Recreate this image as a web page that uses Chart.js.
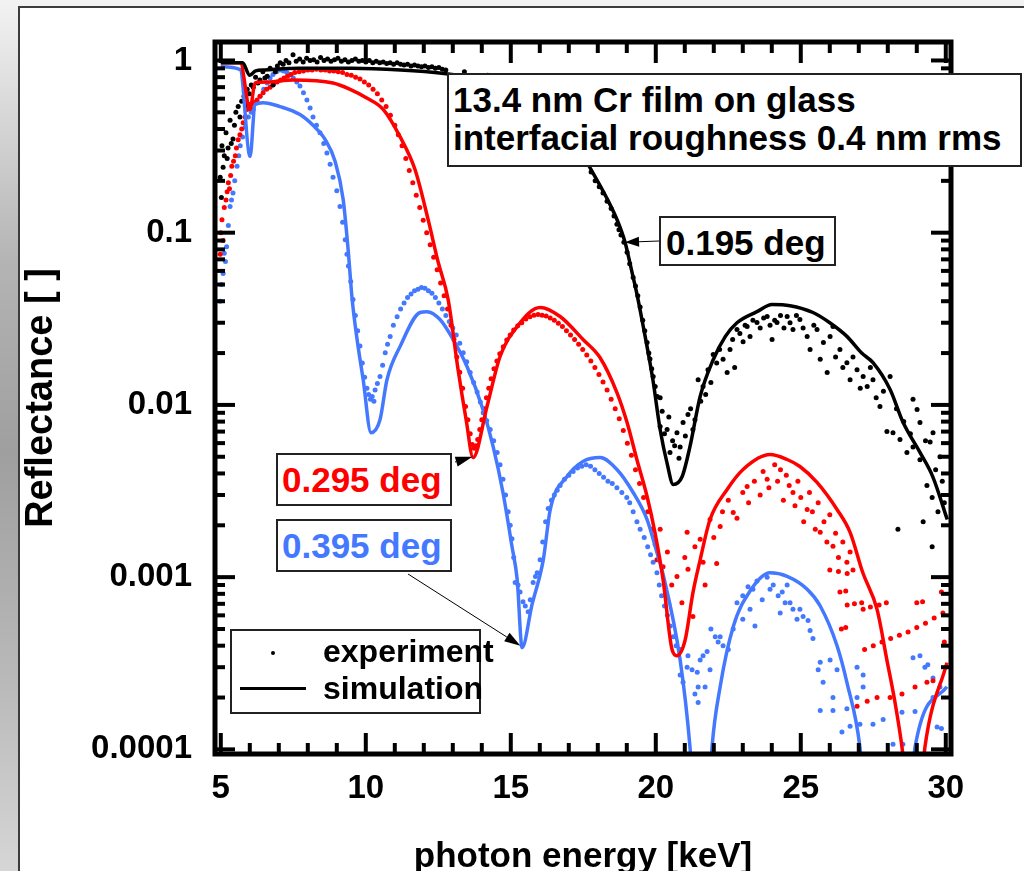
<!DOCTYPE html>
<html>
<head>
<meta charset="utf-8">
<title>Cr film reflectance</title>
<script src="https://cdn.jsdelivr.net/npm/chart.js@4.4.1/dist/chart.umd.min.js"></script>
<style>
  html, body { margin: 0; padding: 0; }
  body {
    width: 1024px; height: 871px; overflow: hidden;
    background: linear-gradient(to bottom, #f3f3f3 0%, #b4b4b4 30%, #9f9f9f 52%, #b9b9b9 78%, #d6d6d6 100%);
  }
  #stage { position: relative; width: 1024px; height: 871px; }
  #panel {
    position: absolute; left: 18px; top: 6px; width: 1100px; height: 1000px;
    background: #fff; border-left: 2px solid #3c3c3c; border-top: 2px solid #3c3c3c;
  }
  canvas { position: absolute; left: 0; top: 0; z-index: 1; }
  .note {
    position: absolute; z-index: 2; box-sizing: border-box;
    background: #fff; border: 2px solid #222; color: #000;
    font: bold 35px "Liberation Sans", Arial, sans-serif; line-height: 1; white-space: nowrap;
  }
  #noteFilm { left: 447px; top: 73px; width: 575px; height: 94px; padding: 6px 0 0 4px; line-height: 38px; }
  #note195 { left: 659px; top: 216px; width: 177px; height: 50px; padding: 7px 0 0 5px; }
  #note295 { left: 276px; top: 453px; width: 176px; height: 53px; padding: 7px 0 0 4px; color: #ff0000; }
  #note395 { left: 276px; top: 519px; width: 176px; height: 53px; padding: 7px 0 0 4px; color: #4479ff; }
  #legendBox { position: absolute; z-index: 2; left: 230px; top: 629px; width: 251px; height: 85px;
    box-sizing: border-box; border: 2px solid #222; background: #fff; }
  .legText { position: absolute; z-index: 3; font: bold 32px "Liberation Sans", Arial, sans-serif;
    line-height: 1; white-space: nowrap; color: #000; }
  #legDot { position: absolute; z-index: 3; left: 271px; top: 651px; width: 4px; height: 4px; border-radius: 50%; background: #000; }
  #legLine { position: absolute; z-index: 3; left: 240px; top: 687px; width: 66px; height: 3px; background: #000; }
</style>
</head>
<body>
<div id="stage">
  <div id="panel"></div>
  <canvas id="chart" width="1024" height="871"></canvas>
  <div class="note" id="noteFilm">13.4 nm Cr film on glass<br>interfacial roughness 0.4 nm rms</div>
  <div class="note" id="note195">0.195 deg</div>
  <div class="note" id="note295">0.295 deg</div>
  <div class="note" id="note395">0.395 deg</div>
  <div id="legendBox"></div>
  <div id="legDot"></div>
  <div class="legText" style="left:323px; top:635px;">experiment</div>
  <div id="legLine"></div>
  <div class="legText" style="left:323px; top:672px;">simulation</div>
</div>
<script>
// axis ticks
const energyTicks = [5, 10, 15, 20, 25, 30];
const reflTicks = [0.0001, 0.001, 0.01, 0.1, 1];
const reflTickLabels = ['0.0001', '0.001', '0.01', '0.1', '1'];

// simulated reflectance curves, one per grazing angle
const blackSimE = [5.0, 5.75, 6.0, 6.2, 6.5, 7.7, 9.5, 11.2, 12.7, 14.0, 15.0, 16.0, 17.0, 17.77, 18.3, 18.7, 18.94, 19.15, 19.35, 19.56, 19.9, 20.15, 20.4, 20.6, 20.91, 21.18, 21.53, 21.98, 22.4, 22.8, 23.49, 24.01, 24.63, 25.42, 26.0, 26.59, 27.1, 27.49, 28.08, 28.53, 29.11, 29.56, 30.05];
const blackSimR = [0.97, 0.97, 0.82, 0.87, 0.88, 0.9, 0.9, 0.88, 0.84, 0.78, 0.7, 0.56, 0.38, 0.232, 0.16, 0.115, 0.088, 0.062, 0.044, 0.029, 0.014, 0.0072, 0.0045, 0.00345, 0.00384, 0.00574, 0.0112, 0.0183, 0.025, 0.03, 0.0348, 0.0383, 0.0377, 0.0344, 0.03, 0.025, 0.02, 0.0176, 0.0123, 0.0079, 0.0053, 0.0038, 0.00216];

const redSimE = [5.0, 5.67, 6.01, 6.18, 6.6, 7.49, 8.87, 9.46, 10.0, 10.6, 11.18, 11.7, 12.15, 12.49, 12.84, 13.18, 13.46, 13.7, 14.18, 14.63, 15.22, 16.01, 16.7, 17.49, 18.08, 18.66, 19.01, 19.35, 19.7, 19.97, 20.25, 20.56, 20.73, 21.01, 21.28, 21.53, 21.87, 22.46, 23.01, 23.94, 24.53, 24.97, 25.56, 26.25, 26.7, 27.14, 27.63, 27.97, 28.25, 28.49, 28.7, 29.1, 29.28, 30.04];
const redSimR = [0.97, 0.97, 0.52, 0.74, 0.75, 0.77, 0.74, 0.68, 0.61, 0.52, 0.361, 0.232, 0.119, 0.068, 0.0409, 0.0161, 0.0082, 0.00495, 0.0098, 0.0191, 0.0285, 0.0368, 0.0326, 0.024, 0.0188, 0.0118, 0.0079, 0.0048, 0.00294, 0.00182, 0.00097, 0.00038, 0.00035, 0.00043, 0.00081, 0.00126, 0.00216, 0.00323, 0.00422, 0.00515, 0.00482, 0.00439, 0.00355, 0.00247, 0.00182, 0.00106, 0.00065, 0.00033, 0.000187, 0.000103, 0.00005, 0.00005, 0.000103, 0.000319];

const blueSimE = [5.0, 5.67, 6.01, 6.18, 6.46, 7.04, 7.73, 8.18, 8.6, 8.94, 9.22, 9.39, 9.53, 9.7, 9.91, 10.18, 10.49, 10.73, 11.18, 11.87, 12.11, 12.56, 13.01, 13.49, 14.04, 14.39, 14.73, 15.04, 15.22, 15.39, 15.73, 16.12, 16.36, 16.94, 17.49, 18.08, 18.66, 19.22, 19.7, 20.04, 20.25, 20.84, 21.18, 21.35, 21.8, 21.94, 22.22, 22.67, 23.25, 23.94, 24.53, 25.22, 25.67, 26.25, 26.59, 27.04, 27.25, 28.75, 28.94, 30.04];
const blueSimR = [0.92, 0.885, 0.277, 0.555, 0.569, 0.54, 0.485, 0.42, 0.347, 0.26, 0.156, 0.08, 0.041, 0.024, 0.014, 0.0069, 0.0082, 0.014, 0.0218, 0.0344, 0.0348, 0.0313, 0.024, 0.0167, 0.0094, 0.00574, 0.0031, 0.00151, 0.00097, 0.00039, 0.00069, 0.00126, 0.00247, 0.00384, 0.0047, 0.00495, 0.00422, 0.0031, 0.00216, 0.00139, 0.00104, 0.00033, 0.000103, 0.00004, 0.00004, 0.000103, 0.000231, 0.000515, 0.00083, 0.00106, 0.00101, 0.00085, 0.00068, 0.0004, 0.000245, 0.000103, 0.00004, 0.00004, 0.000103, 0.000231];

// measured points, [energy keV, reflectance]
const expBlack = [
  [4.98,0.21],[5.02,0.16],[5.04,0.32],[5.08,0.24],[5.12,0.28],[5.18,0.38],[5.22,0.27],[5.25,0.31],[5.32,0.45],[5.36,0.33],
  [5.42,0.35],[5.47,0.42],[5.52,0.5],[5.6,0.54],[5.66,0.47],[5.72,0.58],[5.8,0.62],[5.86,0.55],[5.91,0.68],[5.98,0.64],
  [6.05,0.72],[6.12,0.7],[6.2,0.8],[6.28,0.74],[6.35,0.77],[6.45,0.86],[6.52,0.79],[6.6,0.81],[6.7,0.9],[6.8,0.72],
  [6.88,0.86],[6.95,0.93],[7.05,0.97],[7.15,0.95],[7.25,1.0],[7.35,0.97],[7.49,1.08],[7.6,0.99],[7.72,1.02],[7.84,0.98],
  [7.96,1.03],[8.08,1.0],[8.2,1.01],[8.32,0.98],[8.44,1.04],[8.56,1.0],[8.68,1.02],[8.8,0.99],[8.92,1.01],[9.04,1.03],
  [9.16,0.99],[9.28,1.01],[9.4,0.98],[9.52,1.0],[9.64,1.02],[9.76,0.99],[9.88,1.0],[10.0,0.98],[10.12,1.0],[10.24,0.97],
  [10.36,0.99],[10.48,0.97],[10.6,0.98],[10.72,0.96],[10.84,0.97],[10.96,0.95],[11.08,0.97],[11.2,0.95],[11.32,0.94],[11.44,0.95],
  [11.56,0.93],[11.68,0.94],[11.8,0.93],[11.92,0.92],[12.04,0.93],[12.16,0.91],[12.28,0.92],[12.4,0.9],[12.52,0.91],[12.64,0.89],
  [12.76,0.88],[13.4,0.86],[14.2,0.82],[15.0,0.74],[15.8,0.6],[16.6,0.44],[17.2,0.33],
  [17.63,0.25],[17.77,0.225],[17.91,0.2],[18.05,0.185],[18.18,0.17],[18.32,0.152],[18.46,0.138],[18.56,0.125],[18.66,0.112],[18.73,0.104],
  [18.8,0.097],[18.9,0.088],[19.01,0.077],[19.1,0.066],[19.22,0.055],[19.3,0.049],[19.38,0.043],[19.46,0.037],[19.55,0.031],[19.62,0.027],
  [19.7,0.023],[19.76,0.02],[19.8,0.0185],[19.86,0.0162],[19.91,0.0146],[19.98,0.0128],[20.05,0.0112],[20.15,0.011],[20.15,0.0075],[20.22,0.0092],
  [20.3,0.0068],[20.39,0.0072],[20.45,0.0085],[20.49,0.0053],[20.58,0.0062],[20.65,0.0058],[20.73,0.0069],[20.8,0.0049],[20.84,0.0057],[20.94,0.0079],
  [21.02,0.0066],[21.11,0.0088],[21.2,0.0095],[21.28,0.0072],[21.35,0.0082],[21.46,0.014],[21.55,0.0105],[21.63,0.0128],[21.72,0.0115],[21.8,0.016],
  [21.9,0.0135],[21.98,0.0196],[22.1,0.0175],[22.2,0.021],[22.32,0.0184],[22.46,0.0154],[22.56,0.021],[22.65,0.024],[22.72,0.0165],[22.8,0.0274],
  [22.9,0.026],[23.01,0.0233],[23.08,0.029],[23.15,0.0285],[23.25,0.025],[23.35,0.031],[23.49,0.0301],[23.6,0.028],[23.72,0.032],[23.84,0.0326],
  [23.94,0.029],[24.01,0.024],[24.1,0.031],[24.18,0.0301],[24.3,0.033],[24.42,0.028],[24.53,0.0326],[24.63,0.03],[24.73,0.0274],[24.85,0.033],
  [24.97,0.0313],[25.08,0.028],[25.22,0.025],[25.32,0.021],[25.45,0.029],[25.56,0.0274],[25.67,0.0184],[25.78,0.023],[25.91,0.0154],[26.01,0.025],
  [26.11,0.0285],[26.2,0.019],[26.35,0.021],[26.45,0.0165],[26.59,0.0176],[26.7,0.014],[26.8,0.019],[26.94,0.016],[27.05,0.0125],[27.15,0.0146],
  [27.29,0.0128],[27.4,0.0165],[27.49,0.014],[27.6,0.011],[27.73,0.0098],[27.85,0.012],[27.97,0.007],[28.08,0.0146],[28.18,0.0069],[28.3,0.0095],
  [28.35,0.0019],[28.42,0.0063],[28.55,0.008],[28.66,0.0053],[28.78,0.0068],[28.87,0.0108],[28.87,0.0057],[29.01,0.0094],[29.11,0.0079],[29.11,0.0048],
  [29.22,0.0021],[29.3,0.0062],[29.35,0.0034],[29.46,0.0061],[29.53,0.0029],[29.53,0.0015],[29.56,0.0069],[29.65,0.0042],[29.73,0.0024],[29.8,0.005],
  [29.88,0.0036],[29.95,0.0027]
];

const expRed = [
  [4.98,0.075],[5.0,0.1],[5.04,0.119],[5.08,0.09],[5.12,0.14],[5.18,0.155],[5.22,0.173],[5.26,0.195],[5.3,0.18],[5.34,0.215],
  [5.38,0.243],[5.44,0.26],[5.5,0.28],[5.54,0.31],[5.6,0.347],[5.66,0.37],[5.72,0.4],[5.77,0.435],[5.84,0.47],[5.9,0.52],
  [5.97,0.55],[6.05,0.56],[6.15,0.57],[6.25,0.59],[6.35,0.62],[6.46,0.65],[6.58,0.68],[6.7,0.7],[6.82,0.73],[6.94,0.75],
  [7.06,0.77],[7.18,0.79],[7.3,0.81],[7.42,0.83],[7.55,0.85],[7.7,0.86],[7.85,0.87],[8.0,0.88],[8.15,0.88],[8.3,0.89],
  [8.45,0.88],[8.6,0.88],[8.75,0.87],[8.9,0.87],[9.05,0.86],[9.2,0.85],[9.35,0.83],[9.5,0.82],[9.65,0.8],[9.8,0.78],
  [9.95,0.75],[10.1,0.72],[10.25,0.68],[10.4,0.64],[10.55,0.59],[10.7,0.54],[10.85,0.48],[11.0,0.42],[11.12,0.37],[11.25,0.32],
  [11.38,0.27],[11.5,0.23],[11.62,0.195],[11.74,0.165],[11.86,0.14],[11.98,0.118],[12.1,0.1],[12.22,0.085],[12.34,0.072],[12.46,0.061],
  [12.58,0.051],[12.7,0.043],[12.82,0.036],[12.94,0.029],[13.04,0.024],[13.14,0.019],[13.24,0.0155],[13.34,0.0125],[13.44,0.0098],[13.52,0.0082],
  [13.6,0.0068],[13.67,0.0059],[13.74,0.0056],[13.8,0.0058],[13.86,0.0063],[13.93,0.0072],[14.0,0.0082],[14.08,0.0095],[14.16,0.011],[14.24,0.0125],
  [14.32,0.0142],[14.42,0.0162],[14.52,0.018],[14.62,0.0198],[14.74,0.0218],[14.86,0.0238],[14.98,0.0255],[15.1,0.0272],[15.24,0.0288],[15.38,0.03],
  [15.52,0.0315],[15.66,0.0325],[15.8,0.0332],[15.94,0.0335],[16.08,0.0332],[16.22,0.0328],[16.36,0.032],[16.5,0.031],[16.64,0.0298],[16.78,0.0285],
  [16.92,0.027],[17.06,0.0255],[17.2,0.024],[17.34,0.0225],[17.48,0.021],[17.62,0.0195],[17.76,0.018],[17.9,0.0165],[18.04,0.015],[18.18,0.0136],
  [18.32,0.0122],[18.46,0.0108],[18.6,0.0095],[18.74,0.0083],[18.88,0.0071],[19.02,0.006],[19.16,0.0051],[19.3,0.0042],[19.44,0.0035],[19.58,0.0029],
  [19.72,0.0024],[19.86,0.0019],[19.98,0.00155],[20.04,0.00126],[20.15,0.0019],[20.25,0.00115],[20.4,0.0014],[20.55,0.0009],[20.73,0.00101],[20.9,0.00071],
  [21.0,0.0013],[21.08,0.00182],[21.11,0.00111],[21.28,0.00059],[21.35,0.0015],[21.53,0.00166],[21.63,0.00122],[21.7,0.0009],[21.87,0.00216],[22.0,0.0017],
  [22.1,0.0012],[22.22,0.00197],[22.3,0.0024],[22.5,0.0028],[22.67,0.00237],[22.8,0.0022],[23.0,0.0031],[23.15,0.00336],[23.2,0.0027],[23.4,0.0036],
  [23.6,0.003],[23.7,0.0041],[23.84,0.0037],[23.9,0.0033],[24.1,0.0045],[24.2,0.0036],[24.3,0.0042],[24.4,0.0028],[24.5,0.0039],[24.6,0.0034],
  [24.73,0.0031],[24.8,0.0026],[24.9,0.0036],[25.0,0.0029],[25.1,0.0021],[25.22,0.00247],[25.3,0.0031],[25.4,0.0024],[25.5,0.0019],[25.6,0.0027],
  [25.67,0.00182],[25.8,0.0021],[25.9,0.0016],[26.0,0.0023],[26.11,0.00151],[26.2,0.0018],[26.3,0.0013],[26.45,0.0016],[26.59,0.00122],[26.7,0.0014],
  [26.8,0.0011],[26.0,0.0011],[26.3,0.00108],[26.6,0.00105],[26.35,0.00082],[26.55,0.00083],[26.6,0.00069],[26.85,0.0007],[27.1,0.00071],[26.4,0.0005],
  [26.55,0.00051],[27.15,0.00065],[27.4,0.00067],[27.7,0.00069],[27.95,0.00071],[27.2,0.00038],[27.5,0.0004],[27.8,0.00042],[28.1,0.00044],[28.4,0.00046],
  [28.7,0.00048],[29.0,0.00051],[29.3,0.00054],[29.6,0.00058],[29.9,0.00062],[26.94,0.000178],[27.29,0.00019],[27.63,0.0002],[28.08,0.0002],[28.49,0.00021],
  [28.94,0.00023],[29.35,0.000245],[29.56,0.00025],[29.0,0.00071],[29.2,0.00072],[29.85,0.00082],[29.95,0.00042]
];

const expBlue = [
  [4.98,0.04],[5.02,0.05],[5.08,0.058],[5.12,0.076],[5.16,0.068],[5.2,0.083],[5.26,0.11],[5.32,0.142],[5.37,0.155],[5.42,0.17],
  [5.48,0.2],[5.56,0.243],[5.62,0.28],[5.67,0.32],[5.75,0.36],[5.84,0.41],[5.95,0.47],[6.05,0.5],[6.12,0.52],[6.25,0.57],
  [6.36,0.62],[6.48,0.68],[6.6,0.74],[6.7,0.79],[6.8,0.83],[6.92,0.86],[7.04,0.88],[7.16,0.87],[7.28,0.85],[7.39,0.83],
  [7.5,0.79],[7.62,0.75],[7.73,0.71],[7.85,0.65],[7.97,0.59],[8.08,0.53],[8.18,0.47],[8.3,0.42],[8.42,0.38],[8.55,0.33],
  [8.66,0.29],[8.77,0.25],[8.87,0.21],[9.0,0.175],[9.11,0.142],[9.2,0.115],[9.29,0.091],[9.35,0.075],[9.4,0.064],[9.48,0.052],
  [9.56,0.041],[9.64,0.033],[9.72,0.027],[9.8,0.022],[9.88,0.0175],[9.96,0.0145],[10.04,0.0125],[10.1,0.0115],[10.16,0.0108],[10.22,0.0112],
  [10.28,0.0105],[10.32,0.0122],[10.4,0.0133],[10.49,0.0146],[10.58,0.017],[10.67,0.0201],[10.75,0.0225],[10.84,0.025],[10.95,0.029],[11.08,0.0325],
  [11.2,0.036],[11.32,0.039],[11.44,0.042],[11.56,0.044],[11.68,0.046],[11.8,0.047],[11.92,0.048],[12.04,0.0475],[12.16,0.046],[12.28,0.0445],
  [12.4,0.042],[12.52,0.039],[12.64,0.036],[12.76,0.033],[12.88,0.0305],[13.0,0.028],[13.12,0.0255],[13.24,0.0228],[13.36,0.0201],[13.48,0.0178],
  [13.6,0.0154],[13.72,0.0135],[13.84,0.0119],[13.95,0.0104],[14.05,0.009],[14.17,0.0081],[14.29,0.0072],[14.41,0.0062],[14.53,0.0053],[14.63,0.0045],
  [14.73,0.0037],[14.82,0.003],[14.91,0.0024],[14.98,0.002],[15.04,0.00167],[15.1,0.0013],[15.15,0.00093],[15.25,0.0009],[15.32,0.00082],[15.42,0.00072],
  [15.5,0.00068],[15.6,0.00063],[15.67,0.00074],[15.77,0.00093],[15.85,0.00101],[15.91,0.00106],[16.01,0.00126],[16.1,0.0016],[16.2,0.0021],[16.29,0.0025],
  [16.4,0.0028],[16.5,0.003],[16.6,0.0032],[16.7,0.0034],[16.85,0.0037],[17.0,0.0039],[17.15,0.0041],[17.3,0.0043],[17.45,0.0044],[17.6,0.0045],
  [17.75,0.0044],[17.9,0.0042],[18.05,0.004],[18.2,0.0038],[18.35,0.0036],[18.5,0.0035],[18.66,0.0033],[18.83,0.0031],[19.0,0.0029],[19.1,0.0027],
  [19.22,0.0024],[19.35,0.0021],[19.46,0.0019],[19.6,0.0017],[19.72,0.0015],[19.82,0.00135],[19.91,0.00122],[20.04,0.00106],[20.12,0.0009],[20.2,0.00078],
  [20.3,0.00068],[20.4,0.0006],[20.5,0.00052],[20.6,0.00045],[20.7,0.0004],[20.84,0.00038],[20.84,0.00027],[20.94,0.000245],[21.08,0.0003],[21.11,0.00035],
  [21.25,0.00029],[21.35,0.00021],[21.43,0.00028],[21.46,0.00023],[21.46,0.000187],[21.53,0.00033],[21.63,0.00035],[21.7,0.00023],[21.77,0.00037],[21.87,0.00029],
  [21.9,0.0005],[22.05,0.00045],[22.15,0.00042],[22.22,0.00045],[22.32,0.0004],[22.5,0.00038],[22.67,0.0005],[22.8,0.00071],[23.0,0.00078],[23.0,0.00057],
  [23.18,0.00088],[23.25,0.00065],[23.35,0.00085],[23.42,0.00052],[23.49,0.00095],[23.67,0.00074],[23.84,0.001],[23.94,0.00085],[24.05,0.0009],[24.22,0.00078],
  [24.29,0.00062],[24.36,0.00082],[24.46,0.00071],[24.53,0.0009],[24.63,0.00071],[24.73,0.00065],[24.87,0.00057],[24.97,0.00065],[25.08,0.00059],[25.25,0.00056],
  [25.32,0.00049],[25.42,0.00044],[25.6,0.00029],[25.67,0.00032],[25.67,0.000168],[25.77,0.000245],[26.01,0.00033],[26.11,0.0002],[26.11,0.000168],[26.25,0.00029],
  [26.42,0.000126],[26.59,0.000172],[26.7,0.000136],[26.94,0.0003],[26.94,0.0002],[27.04,0.00014],[27.15,0.00027],[27.15,0.00023],[27.49,0.00014],[27.84,0.000149],
  [28.18,0.000107],[28.49,0.000164],[28.52,0.000107],[28.87,0.00034],[28.94,0.000166],[29.11,0.00035],[29.28,0.0003],[29.38,0.00031],[29.56,0.00026],[29.56,0.0002],
  [29.7,0.000135],[29.8,0.00023],[29.85,0.000132]
];

const colBlack = '#000000';
const colRed = '#ff0000';
const colBlue = '#4479ff';
const fontFamily = '"Liberation Sans", Arial, sans-serif';

// arrows from the angle labels to the curves: tail in page pixels, tip in data units
const pointers = [
  { tail: [659, 241], tip: [18.94, 0.088], head: 14 },
  { tail: [455, 462], tip: [13.68, 0.005], head: 17 },
  { tail: [408, 574], tip: [15.33, 0.0004], head: 16 }
];

function toPoints(xs, ys) {
  return xs.map((x, i) => ({ x: x, y: ys[i] }));
}
function pairsToPoints(pairs) {
  return pairs.map(p => ({ x: p[0], y: p[1] }));
}

function simSet(label, xs, ys, color) {
  return {
    label: label, data: toPoints(xs, ys), showLine: true,
    borderColor: color, borderWidth: 3.5, pointRadius: 0,
    cubicInterpolationMode: 'monotone', order: 0
  };
}
function expSet(label, pairs, color) {
  return {
    label: label, data: pairsToPoints(pairs), showLine: false,
    pointRadius: 2.5, pointBorderWidth: 0, pointBackgroundColor: color,
    backgroundColor: color, order: 1
  };
}

function drawArrow(ctx, x0, y0, x1, y1, head) {
  const a = Math.atan2(y1 - y0, x1 - x0);
  const bx = x1 - head * Math.cos(a), by = y1 - head * Math.sin(a);
  ctx.beginPath();
  ctx.moveTo(x0, y0);
  ctx.lineTo(bx, by);
  ctx.stroke();
  ctx.beginPath();
  ctx.moveTo(x1, y1);
  ctx.lineTo(bx + 5 * Math.sin(a), by - 5 * Math.cos(a));
  ctx.lineTo(bx - 5 * Math.sin(a), by + 5 * Math.cos(a));
  ctx.closePath();
  ctx.fill();
}

// heavy box frame with inward ticks on all four sides, plus the label arrows
const frameTicks = {
  id: 'frameTicks',
  afterDatasetsDraw(chart) {
    const { ctx, chartArea: a, scales: { x, y } } = chart;
    ctx.save();
    ctx.strokeStyle = '#000';
    ctx.lineCap = 'butt';
    ctx.lineWidth = 4;
    const seg = (x0, y0, x1, y1) => { ctx.beginPath(); ctx.moveTo(x0, y0); ctx.lineTo(x1, y1); ctx.stroke(); };

    for (let e = 5; e <= 30; e++) {
      const px = x.getPixelForValue(e);
      const len = e % 5 === 0 ? 21 : 11;
      seg(px, a.bottom, px, a.bottom - len);
      seg(px, a.top, px, a.top + len);
    }
    for (let d = -4; d <= 0; d++) {
      for (let m = 1; m <= 9; m++) {
        const v = m * Math.pow(10, d);
        if (v < y.min || v > y.max) continue;
        const py = y.getPixelForValue(v);
        const len = m === 1 ? 20 : 10;
        seg(a.left, py, a.left + len, py);
        seg(a.right, py, a.right - len, py);
      }
    }
    ctx.lineWidth = 5;
    ctx.strokeRect(a.left, a.top, a.right - a.left, a.bottom - a.top);

    ctx.lineWidth = 1;
    ctx.fillStyle = '#000';
    pointers.forEach(p => {
      drawArrow(ctx, p.tail[0], p.tail[1], x.getPixelForValue(p.tip[0]), y.getPixelForValue(p.tip[1]), p.head);
    });
    ctx.restore();
  }
};

Chart.defaults.font.family = fontFamily;
Chart.defaults.color = '#000';

new Chart(document.getElementById('chart'), {
  type: 'scatter',
  data: {
    datasets: [
      simSet('0.195 deg simulation', blackSimE, blackSimR, colBlack),
      simSet('0.295 deg simulation', redSimE, redSimR, colRed),
      simSet('0.395 deg simulation', blueSimE, blueSimR, colBlue),
      expSet('0.195 deg experiment', expBlack, colBlack),
      expSet('0.295 deg experiment', expRed, colRed),
      expSet('0.395 deg experiment', expBlue, colBlue)
    ]
  },
  options: {
    responsive: false,
    animation: false,
    layout: { padding: { left: 0, top: 42, right: 73, bottom: 0 } },
    plugins: { legend: { display: false }, tooltip: { enabled: false } },
    scales: {
      x: {
        type: 'linear', min: 4.8, max: 30.18, bounds: 'data',
        afterFit: s => { s.height = 117; },
        afterBuildTicks: s => { s.ticks = energyTicks.map(v => ({ value: v })); },
        grid: { display: false },
        border: { display: false },
        ticks: { font: { size: 33, weight: 'bold' }, color: '#000', padding: 7, maxRotation: 0, autoSkip: false },
        title: {
          display: true, text: 'photon energy [keV]', color: '#000',
          font: { size: 35, weight: 'bold', lineHeight: 0.8 }, padding: { top: 0, bottom: 0 }
        }
      },
      y: {
        type: 'logarithmic', min: 0.000094, max: 1.28, bounds: 'data',
        afterFit: s => { s.width = 215; },
        afterBuildTicks: s => { s.ticks = reflTicks.map(v => ({ value: v })); },
        grid: { display: false },
        border: { display: false },
        ticks: {
          font: { size: 33, weight: 'bold' }, color: '#000', padding: 15, autoSkip: false,
          callback: (v, i) => reflTickLabels[i]
        },
        title: {
          display: true, text: 'Reflectance [ ]', color: '#000',
          font: { size: 38, weight: 'bold' }, padding: { top: 19, bottom: 0 }
        }
      }
    }
  },
  plugins: [frameTicks]
});
</script>
</body>
</html>
